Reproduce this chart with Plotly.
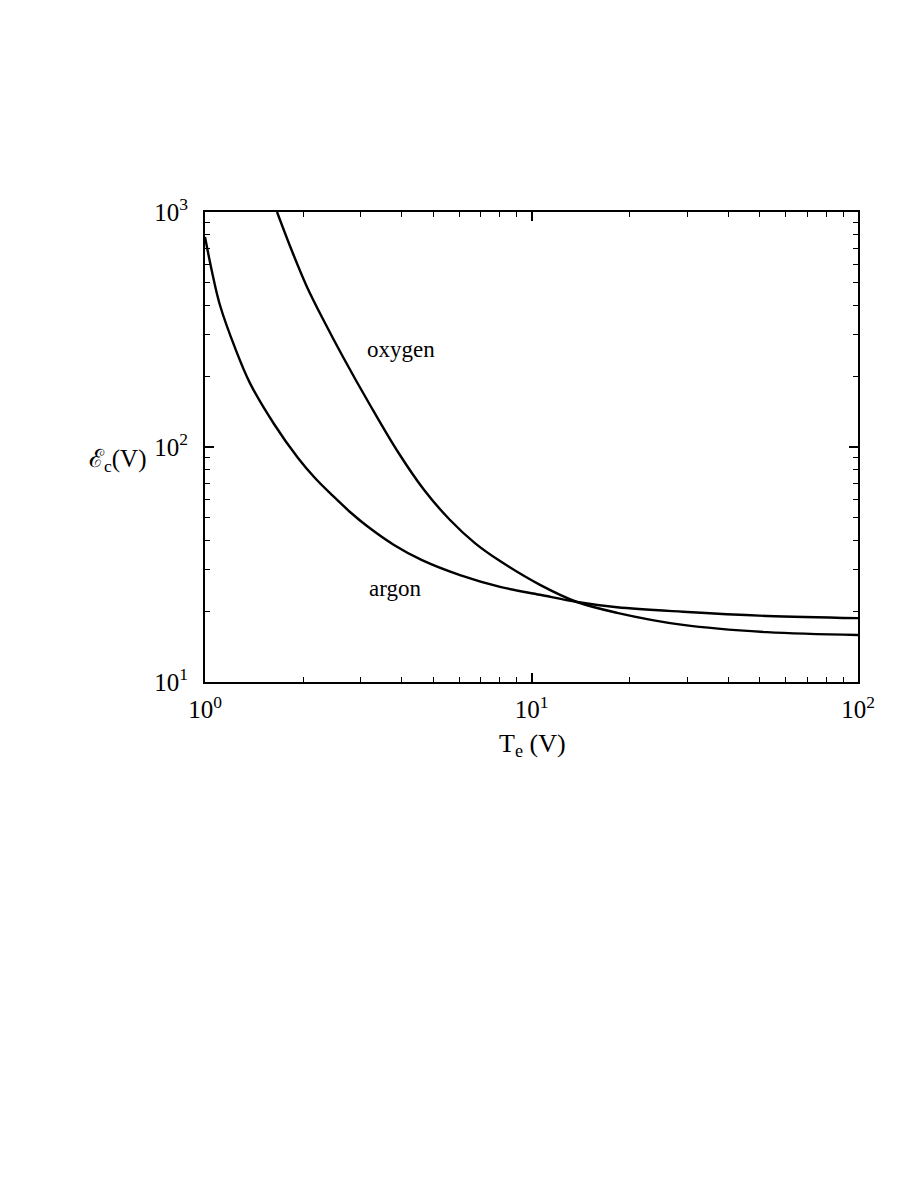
import plotly.graph_objects as go

argon_te = [1.0, 1.051, 1.111, 1.236, 1.373, 1.627, 1.927, 2.172, 2.466, 2.781, 3.135,
            3.792, 4.62, 6.04, 8.01, 10.62, 13.79, 18.28, 29.1, 52.6, 100]
argon_ec = [783, 556, 402, 264, 187, 125.3, 89.8, 73.8, 61.9, 52.9, 46.1,
            38.3, 33.0, 28.5, 25.4, 23.5, 21.9, 20.8, 19.9, 19.1, 18.7]

oxygen_te = [1.662, 1.847, 2.053, 2.331, 2.647, 3.202, 3.90, 4.69, 5.63, 6.71, 8.01,
             10.62, 13.79, 18.28, 29.1, 52.6, 100]
oxygen_ec = [1000, 682, 480, 337, 241.6, 150.9, 95.2, 65.6, 48.9, 39.0, 32.7,
             25.9, 21.9, 19.7, 17.5, 16.3, 15.85]

x_tickvals = [1, 10, 100]
x_ticktext = ["10<sup>0</sup>", "10<sup>1</sup>", "10<sup>2</sup>"]
y_tickvals = [10, 100, 1000]
y_ticktext = ["10<sup>1</sup>", "10<sup>2</sup>", "10<sup>3</sup>"]

FONT = "Liberation Serif, Times New Roman, serif"

fig = go.Figure()
line = dict(color="black", width=2.4, shape="spline", smoothing=1.0)
fig.add_trace(go.Scatter(x=argon_te, y=argon_ec, mode="lines", line=line, name="argon"))
fig.add_trace(go.Scatter(x=oxygen_te, y=oxygen_ec, mode="lines", line=line, name="oxygen"))

axis_common = dict(
    type="log",
    showline=True, linecolor="black", linewidth=2,
    mirror="ticks", ticks="inside", ticklen=9, tickwidth=1.5, tickcolor="black",
    showgrid=False, zeroline=False,
    tickfont=dict(family=FONT, size=25, color="black"),
    minor=dict(ticks="inside", ticklen=5, tickwidth=1.2, tickcolor="black", dtick="D1", showgrid=False),
)

fig.update_xaxes(range=[0, 2], tickvals=x_tickvals, ticktext=x_ticktext, ticklabelstandoff=4, **axis_common)
fig.update_yaxes(range=[1, 3], tickvals=y_tickvals, ticktext=y_ticktext, ticklabelstandoff=10, **axis_common)

fig.add_annotation(x=0.600, y=2.413, xref="x", yref="y", text="oxygen", showarrow=False,
                   xanchor="center", yanchor="middle",
                   font=dict(family=FONT, size=23, color="black"))
fig.add_annotation(x=0.582, y=1.396, xref="x", yref="y", text="argon", showarrow=False,
                   xanchor="center", yanchor="middle",
                   font=dict(family=FONT, size=23, color="black"))
fig.add_annotation(x=0.502, y=-0.134, xref="paper", yref="paper", text="T<sub>e</sub> (V)", showarrow=False,
                   xanchor="center", yanchor="middle",
                   font=dict(family=FONT, size=26, color="black"))
fig.add_annotation(x=-0.133, y=0.472, xref="paper", yref="paper", text="ℰ<sub>c</sub>(V)", showarrow=False,
                   xanchor="center", yanchor="middle",
                   font=dict(family=FONT, size=25, color="black"))

fig.update_layout(
    width=918, height=1188,
    margin=dict(l=197, r=68, t=204, b=514),
    paper_bgcolor="white", plot_bgcolor="white",
    showlegend=False,
)

fig.write_html("out.html")
